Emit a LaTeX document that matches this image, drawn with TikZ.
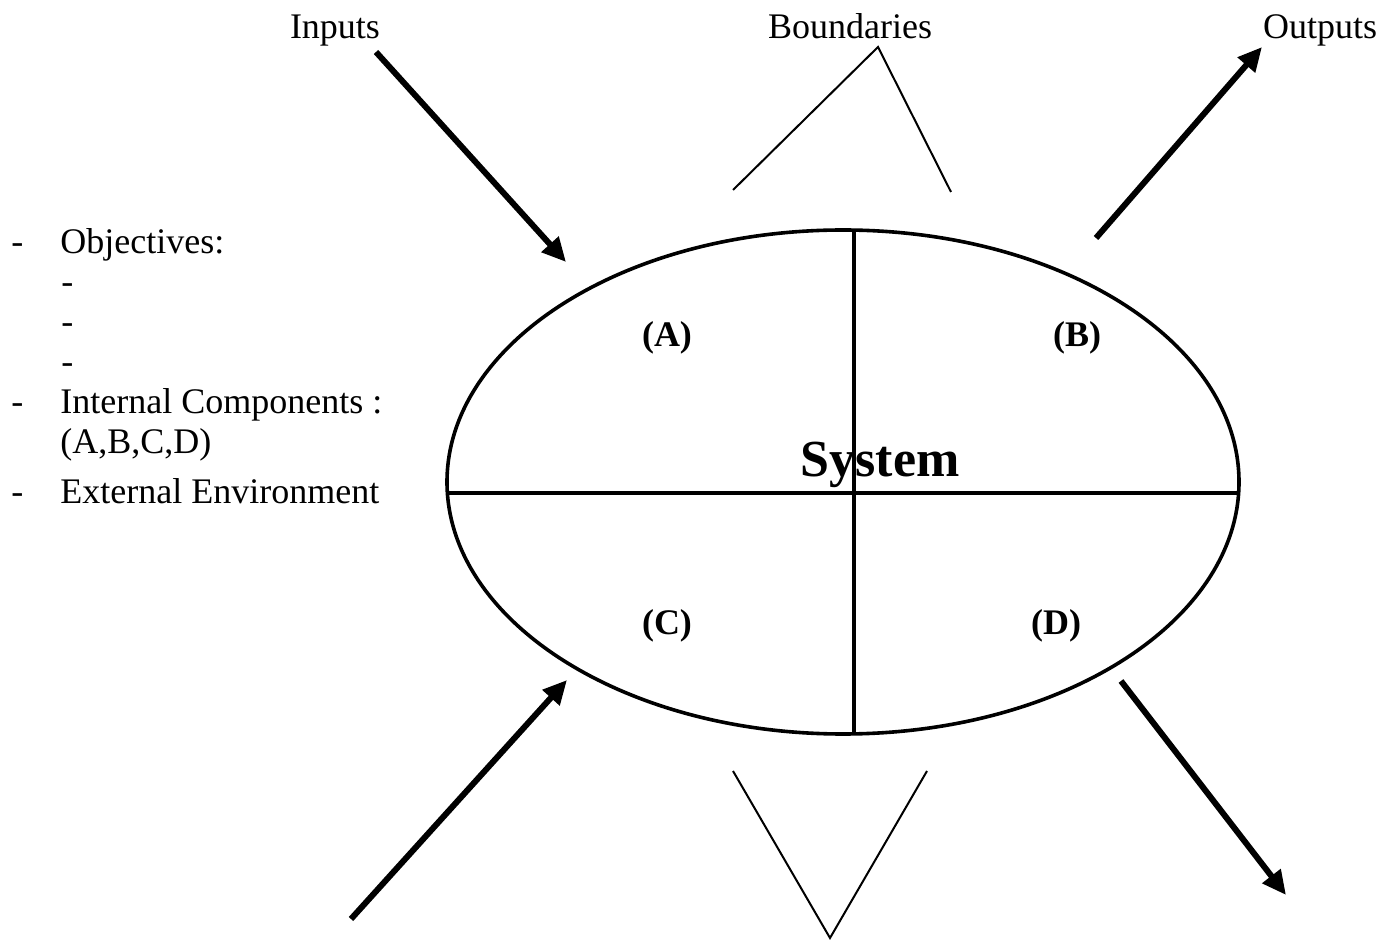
\documentclass[tikz,border=0pt]{standalone}
\usepackage{fontspec}
\setmainfont{Liberation Serif}
\usetikzlibrary{arrows.meta}
\begin{document}
\begin{tikzpicture}[x=0.5pt,y=-0.5pt,
  txt/.style={font=\fontsize{18}{20}\selectfont, inner sep=0pt, anchor=base},
  lst/.style={font=\fontsize{18}{20}\selectfont, inner sep=0pt, anchor=base west},
  lbl/.style={font=\bfseries\fontsize{18}{20}\selectfont, inner sep=0pt},
  bigarrow/.style={line width=3pt, -{Triangle[length=12pt,width=11pt]}},
  thinline/.style={line width=1pt},
  sysline/.style={line width=1.8pt}]
\useasboundingbox (0,0) rectangle (1387,940);
% title texts
\node[txt] (inputs) at (335,39) {Inputs};
\node[txt] (bound) at (850,39) {Boundaries};
\node[txt] (outputs) at (1320,39) {Outputs};
% ellipse and dividers
\draw[sysline] (843,482) ellipse [x radius=396, y radius=252];
\coordinate (vt) at (854,230);
\coordinate (vb) at (854,733);
\coordinate (hl) at (446,493);
\coordinate (hr) at (1240,493);
\draw[sysline] (vt) -- (vb);
\draw[sysline] (hl) -- (hr);
% labels
\node[lbl] (la) at (667,338) {(A)};
\node[lbl] (lb) at (1077,338) {(B)};
\node[lbl] (lc) at (667,626) {(C)};
\node[lbl] (ld) at (1056,626) {(D)};
\node[font=\bfseries\fontsize{26}{30}\selectfont, inner sep=0pt, anchor=base] (sys) at (880,477) {System};
% boundaries lines
\coordinate (ba) at (878,47);
\coordinate (bl) at (733,190);
\coordinate (br) at (951,192);
\draw[thinline] (bl) -- (ba) -- (br);
\coordinate (va) at (830,938);
\coordinate (vl) at (733,771);
\coordinate (vr) at (927,771);
\draw[thinline] (vl) -- (va) -- (vr);
% arrows
\coordinate (i1) at (376,52);
\coordinate (i2) at (566,262);
\draw[bigarrow] (i1) -- (i2);
\coordinate (o1) at (1096,238);
\coordinate (o2) at (1262,47);
\draw[bigarrow] (o1) -- (o2);
\coordinate (bl1) at (351,919);
\coordinate (bl2) at (567,680);
\draw[bigarrow] (bl1) -- (bl2);
\coordinate (br1) at (1121,681);
\coordinate (br2) at (1286,895);
\draw[bigarrow] (br1) -- (br2);
% left list
\node[lst] (d1) at (11,254) {-};
\node[lst] (t1) at (60,254) {Objectives:};
\node[lst] (d2) at (61,294) {-};
\node[lst] (d3) at (61,334) {-};
\node[lst] (d4) at (61,374) {-};
\node[lst] (d5) at (11,414) {-};
\node[lst] (t2) at (60,414) {Internal Components :};
\node[lst] (t3) at (60,454) {(A,B,C,D)};
\node[lst] (d6) at (11,504) {-};
\node[lst] (t4) at (60,504) {External Environment};
\end{tikzpicture}
\end{document}
